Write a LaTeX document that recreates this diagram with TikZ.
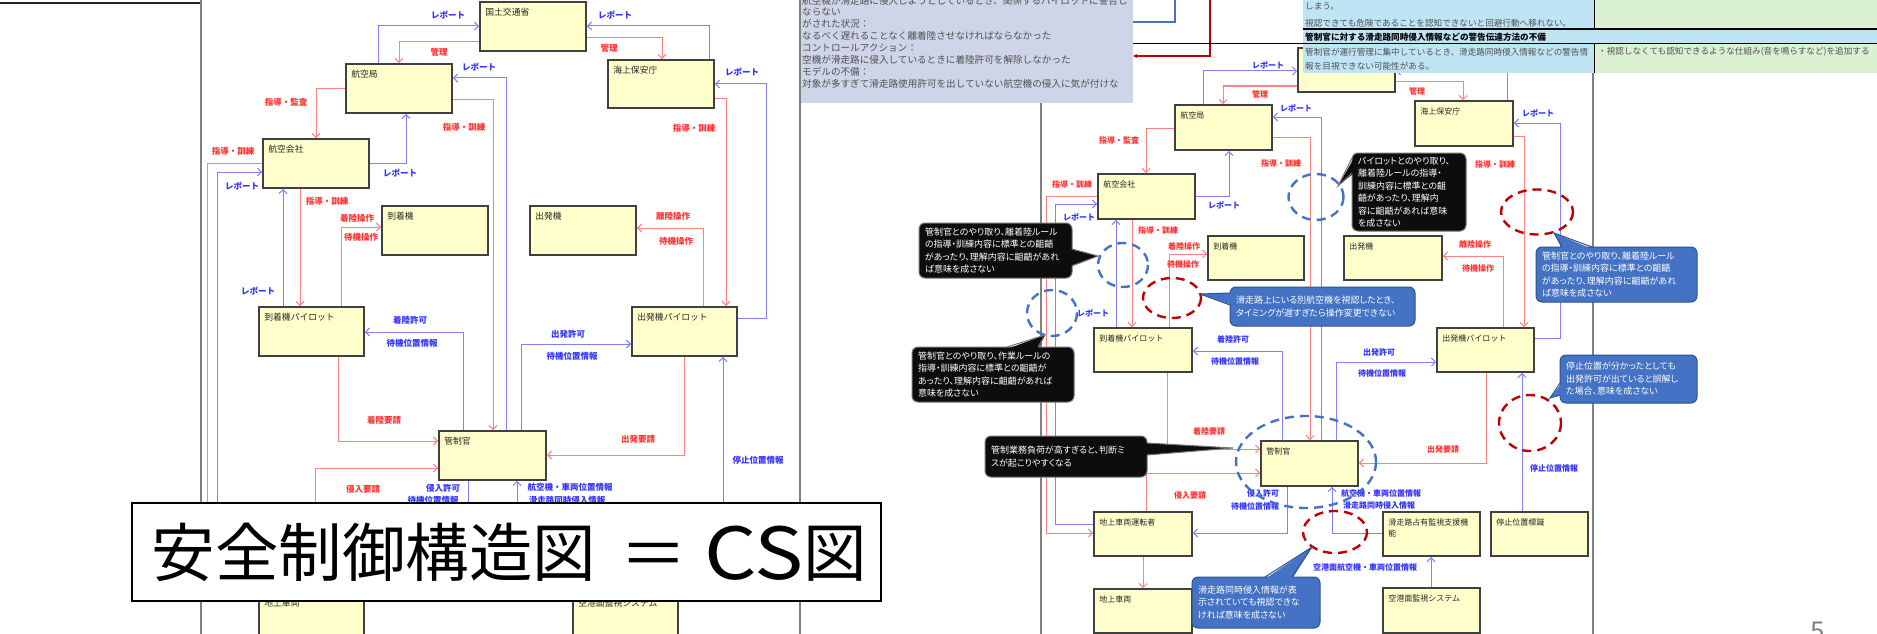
\documentclass[tikz,border=0pt]{standalone}
\usepackage{fontspec}
\usepackage{graphicx}
\setmainfont{Noto Sans CJK JP}
\newfontfamily\paltfont{Noto Sans CJK JP}[RawFeature=+palt]
\usetikzlibrary{arrows.meta}
\definecolor{boxfill}{HTML}{FFFFCC}
\definecolor{boxline}{HTML}{404040}
\definecolor{linered}{HTML}{FF8080}
\definecolor{lineblue}{HTML}{8080FF}
\definecolor{txtred}{HTML}{FF3333}
\definecolor{txtblue}{HTML}{3333FF}
\definecolor{ellblue}{HTML}{4472C4}
\definecolor{ellred}{HTML}{C00000}
\definecolor{calblue}{HTML}{4472C4}
\definecolor{calblueline}{HTML}{2F528F}
\definecolor{calblack}{HTML}{0D0D0D}
\definecolor{lavfill}{HTML}{CFD5E9}
\definecolor{tblue}{HTML}{BFE4F4}
\definecolor{tgreen}{HTML}{DAF1D2}
\definecolor{panelgray}{HTML}{808080}
\definecolor{txtgray}{HTML}{505050}
\newcommand\ybx[7]{%
  \node[ybox, minimum width={#5-#3}, minimum height={#6-#4}] (#2) at ({(#3+#5)/2},{(#4+#6)/2}) {};
  \node[ytxt#1] (#2t) at ([xshift=6pt,yshift=-7pt]#2.north west) {#7};}
\begin{document}
\begin{tikzpicture}[x=1pt,y=-1pt,
 ybox/.style={draw=boxline, line width=1.7pt, fill=boxfill, inner sep=0pt},
 ytxtL/.style={anchor=north west, inner sep=0pt, font=\fontsize{8.8}{10.5}\selectfont, text=black!85, align=left},
 ytxtR/.style={anchor=north west, inner sep=0pt, font=\fontsize{8}{11}\selectfont, text=black!85, align=left},
 redarr/.style={draw=linered, line width=1pt, -{Straight Barb[length=4pt,width=8pt]}},
 bluearr/.style={draw=lineblue, line width=1pt, -{Straight Barb[length=4pt,width=8pt]}},
 redline/.style={draw=linered, line width=1pt},
 blueline/.style={draw=lineblue, line width=1pt},
 rlL/.style={text=txtred, inner sep=0pt, font=\fontsize{8.5}{10}\selectfont\bfseries},
 blL/.style={text=txtblue, inner sep=0pt, font=\fontsize{8.5}{10}\selectfont\bfseries},
 rlR/.style={text=txtred, inner sep=0pt, font=\fontsize{8}{10}\selectfont\bfseries},
 blR/.style={text=txtblue, inner sep=0pt, font=\fontsize{8}{10}\selectfont\bfseries},
 cbase/.style={rounded corners=6pt, line width=1pt, inner xsep=6pt, inner ysep=3pt, align=left, text=white, font=\paltfont\fontsize{9}{12.5}\selectfont},
 callblk/.style={cbase, fill=calblack, draw=black!55},
 callblu/.style={cbase, fill=calblue, draw=calblueline},
 elldash/.style={line width=2.4pt, dash pattern=on 9pt off 6pt},
 panel/.style={draw=panelgray, line width=1.4pt},
 lavtxt/.style={anchor=west, inner sep=0pt, text=txtgray, font=\fontsize{9.6}{12}\selectfont},
 tbltxt/.style={anchor=west, inner sep=0pt, text=txtgray, font=\fontsize{8.6}{10}\selectfont},
]
\useasboundingbox (0,0) rectangle (1877,634);
\fill[white] (0,0) rectangle (1877,634);

% panel borders
\draw[line width=2.2pt, black!85] (0,3) -- (201,3);
\draw[panel] (201,0) -- (201,634);
\draw[panel] (800,0) -- (800,634);
\draw[panel] (1041,103) -- (1041,634);
\draw[panel] (1593,73) -- (1593,634);

% ================= LEFT DIAGRAM =================
\ybx{L}{LkK}{480}{2}{586}{51}{国土交通省}
\ybx{L}{LkL}{346}{64}{452}{113}{航空局}
\ybx{L}{LkH}{608}{60}{714}{108}{海上保安庁}
\ybx{L}{LkC}{263}{139}{369}{188}{航空会社}
\ybx{L}{LkA}{382}{206}{488}{255}{到着機}
\ybx{L}{LkD}{530}{206}{636}{255}{出発機}
\ybx{L}{LkAP}{259}{307}{364}{356}{到着機パイロット}
\ybx{L}{LkDP}{632}{307}{737}{356}{出発機パイロット}
\ybx{L}{LkT}{439}{431}{546}{480}{管制官}
\ybx{L}{LkV}{259}{593}{364}{660}{地上車両}
\ybx{L}{LkS}{573}{593}{678}{660}{空港面監視システム}

\coordinate (Le1) at (207,540);
\coordinate (Le2) at (217,540);
\coordinate (Le3) at (315,540);
\coordinate (Le4) at (468,540);
\coordinate (Le5) at (517,540);
\coordinate (Le6) at (723,540);

\draw[bluearr] (LkL.north -| 378,0) |- (LkK.west |- 0,26);
\draw[redarr] (LkK.west |- 0,42) -| (LkL.north -| 399,0);
\draw[bluearr] (LkH.north -| 709,0) |- (LkK.east |- 0,26);
\draw[redarr] (LkK.east |- 0,38) -| (LkH.north -| 662,0);
\draw[redarr] (LkL.west |- 0,88) -| (LkC.north -| 316,0);
\draw[bluearr] (LkC.east |- 0,163) -| (LkL.south -| 406,0);
\draw[bluearr] (LkT.north -| 506,0) |- (LkL.east |- 0,78);
\draw[redarr] (LkL.east |- 0,99) -| (LkT.north -| 493,0);
\draw[redarr] (LkH.east |- 0,98) -| (LkDP.north -| 726,0);
\draw[bluearr] (LkDP.east |- 0,318) -| (766,84) -- (LkH.east |- 0,84);
\draw[redarr] (LkDP.north -| 703,0) |- (LkD.east |- 0,228);
\draw[redline] (LkC.west |- 0,163) -| (Le1);
\draw[bluearr] (Le2) |- (LkC.west |- 0,172);
\draw[redarr] (LkC.south -| 300,0) -- (LkAP.north -| 300,0);
\draw[bluearr] (LkAP.north -| 283,0) -- (LkC.south -| 283,0);
\draw[redarr] (LkAP.north -| 341,0) |- (LkA.west |- 0,227);
\draw[bluearr] (LkT.north -| 463,0) |- (LkAP.east |- 0,332);
\draw[bluearr] (LkT.north -| 521,0) |- (LkDP.west |- 0,344);
\draw[redarr] (LkAP.south -| 338,0) |- (LkT.west |- 0,441);
\draw[redarr] (LkDP.south -| 684,0) |- (LkT.east |- 0,455);
\draw[redarr] (Le3) |- (LkT.west |- 0,468);
\draw[blueline] (LkT.south -| 468,0) -- (Le4);
\draw[bluearr] (Le5) -- (LkT.south -| 517,0);
\draw[bluearr] (Le6) -- (LkDP.south -| 723,0);

\node[blL] (ll1) at (448,15) {レポート};
\node[rlL] (ll2) at (439,52) {管理};
\node[blL] (ll3) at (615,15) {レポート};
\node[rlL] (ll4) at (609,48) {管理};
\node[rlL] (ll5) at (286,102) {指導・監査};
\node[blL] (ll6) at (400,173) {レポート};
\node[blL] (ll7) at (479,67) {レポート};
\node[rlL] (ll8) at (464,127) {指導・訓練};
\node[rlL] (ll9) at (694,128) {指導・訓練};
\node[blL] (ll10) at (742,72) {レポート};
\node[rlL] (ll11) at (673,216) {離陸操作};
\node[rlL] (ll12) at (676,241) {待機操作};
\node[rlL] (ll13) at (233,151) {指導・訓練};
\node[blL] (ll14) at (242,186) {レポート};
\node[rlL] (ll15) at (327,201) {指導・訓練};
\node[blL] (ll16) at (258,291) {レポート};
\node[rlL] (ll17) at (357,218) {着陸操作};
\node[rlL] (ll18) at (361,237) {待機操作};
\node[blL] (ll19) at (410,320) {着陸許可};
\node[blL] (ll20) at (412,343) {待機位置情報};
\node[blL] (ll21) at (568,334) {出発許可};
\node[blL] (ll22) at (572,356) {待機位置情報};
\node[rlL] (ll23) at (384,420) {着陸要請};
\node[rlL] (ll24) at (638,439) {出発要請};
\node[rlL] (ll25) at (363,489) {侵入要請};
\node[blL] (ll26) at (443,488) {侵入許可};
\node[blL] (ll27) at (433,500) {待機位置情報};
\node[blL] (ll28) at (570,487) {航空機・車両位置情報};
\node[blL] (ll29) at (567,500) {滑走路同時侵入情報};
\node[blL] (ll30) at (758,460) {停止位置情報};

% ================= RIGHT DIAGRAM =================
\ybx{R}{RkK}{1298}{48}{1395}{92}{}
\ybx{R}{RkL}{1175}{105}{1272}{150}{航空局}
\ybx{R}{RkH}{1415}{101}{1513}{146}{海上保安庁}
\ybx{R}{RkC}{1098}{174}{1195}{219}{航空会社}
\ybx{R}{RkA}{1208}{236}{1304}{280}{到着機}
\ybx{R}{RkD}{1344}{236}{1442}{280}{出発機}
\ybx{R}{RkAP}{1094}{328}{1192}{372}{到着機パイロット}
\ybx{R}{RkDP}{1437}{328}{1534}{372}{出発機パイロット}
\ybx{R}{RkT}{1261}{441}{1358}{486}{管制官}
\ybx{R}{RkVD}{1094}{512}{1192}{556}{地上車両運転者}
\ybx{R}{RkV}{1094}{589}{1192}{633}{地上車両}
\ybx{R}{RkR}{1383}{512}{1480}{556}{滑走路占有監視支援機\\能}
\ybx{R}{RkS}{1491}{512}{1588}{556}{停止位置標識}
\ybx{R}{RkM}{1383}{588}{1480}{633}{空港面監視システム}

\draw[bluearr] (RkL.north -| 1203,0) |- (RkK.west |- 0,71);
\draw[redarr] (RkK.west |- 0,86) -| (RkL.north -| 1223,0);
\draw[bluearr] (RkH.north -| 1507,0) |- (RkK.east |- 0,71);
\draw[redarr] (RkK.east |- 0,82) -| (RkH.north -| 1463,0);
\draw[redarr] (RkL.west |- 0,128) -| (RkC.north -| 1146,0);
\draw[bluearr] (RkC.east |- 0,196) -| (RkL.south -| 1229,0);
\draw[bluearr] (RkT.north -| 1321,0) |- (RkL.east |- 0,117);
\draw[redarr] (RkL.east |- 0,137) -| (RkT.north -| 1310,0);
\draw[redarr] (RkH.east |- 0,136) -| (RkDP.north -| 1524,0);
\draw[bluearr] (RkDP.east |- 0,338) -| (1560,123) -- (RkH.east |- 0,123);
\draw[redarr] (RkDP.north -| 1503,0) |- (RkD.east |- 0,256);
\draw[redarr] (RkC.west |- 0,196) -| (1046,533) -- (RkVD.west |- 0,533);
\draw[bluearr] (RkVD.west |- 0,524) -| (1055,204) -- (RkC.west |- 0,204);
\draw[redarr] (RkC.south -| 1132,0) -- (RkAP.north -| 1132,0);
\draw[bluearr] (RkAP.north -| 1116,0) -- (RkC.south -| 1116,0);
\draw[redarr] (RkAP.north -| 1169,0) |- (RkA.west |- 0,254);
\draw[bluearr] (RkT.north -| 1282,0) |- (RkAP.east |- 0,351);
\draw[bluearr] (RkT.north -| 1336,0) |- (RkDP.west |- 0,362);
\draw[redarr] (RkAP.south -| 1167,0) |- (RkT.west |- 0,449);
\draw[redarr] (RkDP.south -| 1486,0) |- (RkT.east |- 0,463);
\draw[redarr] (RkVD.north -| 1146,0) |- (RkT.west |- 0,473);
\draw[bluearr] (RkT.south -| 1287,0) |- (RkVD.east |- 0,533);
\draw[bluearr] (RkR.west |- 0,533) -| (RkT.south -| 1332,0);
\draw[bluearr] (RkS.north -| 1522,0) -- (RkDP.south -| 1522,0);
\draw[bluearr] (RkM.north -| 1431,0) -- (RkR.south -| 1431,0);
\draw[redarr] (RkVD.south -| 1143,0) -- (RkV.north -| 1143,0);

\node[blR] (rl1) at (1268,65) {レポート};
\node[rlR] (rl2) at (1260,94) {管理};
\node[rlR] (rl3) at (1417,91) {管理};
\node[blR] (rl4) at (1296,108) {レポート};
\node[rlR] (rl5) at (1119,140) {指導・監査};
\node[rlR] (rl6) at (1281,163) {指導・訓練};
\node[blR] (rl7) at (1538,113) {レポート};
\node[rlR] (rl8) at (1495,164) {指導・訓練};
\node[rlR] (rl9) at (1072,184) {指導・訓練};
\node[blR] (rl10) at (1079,217) {レポート};
\node[blR] (rl11) at (1224,205) {レポート};
\node[rlR] (rl12) at (1158,230) {指導・訓練};
\node[blR] (rl13) at (1093,313) {レポート};
\node[rlR] (rl14) at (1184,246) {着陸操作};
\node[rlR] (rl15) at (1183,264) {待機操作};
\node[rlR] (rl16) at (1475,244) {離陸操作};
\node[rlR] (rl17) at (1478,268) {待機操作};
\node[blR] (rl18) at (1233,339) {着陸許可};
\node[blR] (rl19) at (1235,361) {待機位置情報};
\node[blR] (rl20) at (1379,352) {出発許可};
\node[blR] (rl21) at (1382,373) {待機位置情報};
\node[rlR] (rl22) at (1209,431) {着陸要請};
\node[rlR] (rl23) at (1443,449) {出発要請};
\node[rlR] (rl24) at (1190,495) {侵入要請};
\node[blR] (rl25) at (1554,468) {停止位置情報};
\node[blR] (rl26) at (1263,493) {侵入許可};
\node[blR] (rl27) at (1255,506) {待機位置情報};
\node[blR] (rl28) at (1381,493) {航空機・車両位置情報};
\node[blR] (rl29) at (1379,505) {滑走路同時侵入情報};
\node[blR] (rl30) at (1365,567) {空港面航空機・車両位置情報};

% dashed ellipses
\draw[elldash, ellblue] (1316,197) ellipse [x radius=27.5, y radius=23];
\draw[elldash, ellred] (1537,212) ellipse [x radius=36, y radius=22.5];
\draw[elldash, ellblue] (1123,265) ellipse [x radius=25, y radius=22];
\draw[elldash, ellred] (1172,298) ellipse [x radius=29, y radius=20];
\draw[elldash, ellblue] (1052,313) ellipse [x radius=25, y radius=23];
\draw[elldash, ellred] (1530,423) ellipse [x radius=31, y radius=28];
\draw[elldash, ellblue] (1306,462) ellipse [x radius=70, y radius=46];
\draw[elldash, ellred] (1335,532) ellipse [x radius=32, y radius=21];

% callouts
\node[callblk, minimum width=114, text width=102, minimum height=78] (c1) at (1409,192) {パイロットとのやり取り、\\離着陸ルールの指導・\\訓練内容に標準との齟\\齬があったり、理解内\\容に齟齬があれば意味\\を成さない};
\fill[calblack] (1354,158) -- (1338,186) -- (1354,173) -- cycle;
\draw[black!55, line width=1pt] (1352,158) -- (1338,186) -- (1352,173);

\node[callblu, minimum width=161, text width=149, minimum height=55] (c2) at (1616.5,274.5) {管制官とのやり取り、離着陸ルール\\の指導・訓練内容に標準との齟齬\\があったり、理解内容に齟齬があれ\\ば意味を成さない};
\fill[calblue] (1562,249) -- (1554,233) -- (1592,249) -- cycle;
\draw[calblueline, line width=1pt] (1562,247) -- (1554,233) -- (1592,247);

\node[callblu, minimum width=137, text width=125, minimum height=48] (c3) at (1628.5,379) {停止位置が分かったとしても\\出発許可が出ていると誤解し\\た場合、意味を成さない};
\fill[calblue] (1562,383) -- (1550,398) -- (1562,395) -- cycle;
\draw[calblueline, line width=1pt] (1560,383) -- (1550,398) -- (1560,395);

\node[callblk, minimum width=153, text width=141, minimum height=55] (c4) at (995.5,250.5) {管制官とのやり取り、離着陸ルール\\の指導・訓練内容に標準との齟齬\\があったり、理解内容に齟齬があれ\\ば意味を成さない};
\fill[calblack] (1070,249) -- (1098,256) -- (1070,266) -- cycle;
\draw[black!55, line width=1pt] (1072,249) -- (1098,256) -- (1072,266);

\node[callblu, minimum width=185, text width=173, minimum height=39] (c5) at (1322.5,306.5) {滑走路上にいる別航空機を視認したとき、\\タイミングが遅すぎたら操作変更できない};
\fill[calblue] (1232,293) -- (1200,294) -- (1232,305) -- cycle;
\draw[calblueline, line width=1pt] (1230,293) -- (1200,294) -- (1230,305);

\node[callblk, minimum width=162, text width=150, minimum height=55] (c6) at (993,374.5) {管制官とのやり取り、作業ルールの\\指導・訓練内容に標準との齟齬が\\あったり、理解内容に齟齬があれば\\意味を成さない};
\fill[calblack] (1007,349) -- (1045,335) -- (1038,349) -- cycle;
\draw[black!55, line width=1pt] (1007,347) -- (1045,335) -- (1038,347);

\node[callblk, minimum width=162, text width=150, minimum height=41] (c7) at (1066,456.5) {管制業務負荷が高すぎると、判断ミ\\スが起こりやすくなる};
\fill[calblack] (1145,443) -- (1233,448) -- (1145,455) -- cycle;
\draw[black!55, line width=1pt] (1147,443) -- (1233,448) -- (1147,455);

\node[callblu, minimum width=128, text width=116, minimum height=51] (c8) at (1256,602.5) {滑走路同時侵入情報が表\\示されていても視認できな\\ければ意味を成さない};
\fill[calblue] (1265,579) -- (1312,547) -- (1292,579) -- cycle;
\draw[calblueline, line width=1pt] (1265,577) -- (1312,547) -- (1292,577);

% lavender text box
\node[fill=lavfill, inner sep=0pt, minimum width=332, minimum height=103] (lavb) at (967,51.5) {};
\node[lavtxt] (lv1) at (802,0.5) {航空機が滑走路に侵入しようとしているとき、関係するパイロットに警告し};
\node[lavtxt] (lv2) at (802,12) {ならない};
\node[lavtxt] (lv3) at (802,24) {がされた状況：};
\node[lavtxt] (lv4) at (802,36) {なるべく遅れることなく離着陸させなければならなかった};
\node[lavtxt] (lv5) at (802,48) {コントロールアクション：};
\node[lavtxt] (lv6) at (802,60) {空機が滑走路に侵入しているときに着陸許可を解除しなかった};
\node[lavtxt] (lv7) at (802,72) {モデルの不備：};
\node[lavtxt] (lv8) at (802,84) {対象が多すぎて滑走路使用許可を出していない航空機の侵入に気が付けな};
\coordinate (topb) at (1175,0);
\coordinate (topr) at (1210,0);
\draw[ellblue, line width=1.4pt] (lavb.east |- 0,22) -| (topb);
\draw[ellred, line width=1.4pt, -{Stealth[length=4pt,width=4pt]}] (topr) |- (lavb.east |- 0,56);

% table
\fill[tblue] (1303,0) rectangle (1594,29);
\fill[tgreen] (1594,0) rectangle (1877,29);
\fill[tblue] (1303,29) rectangle (1877,44);
\fill[tblue] (1303,44) rectangle (1594,73);
\fill[tgreen] (1594,44) rectangle (1877,73);
\draw[black, line width=1.2pt] (1303,29) -- (1877,29);
\draw[black, line width=1.2pt] (1133,43.5) -- (1877,43.5);
\draw[black, line width=1pt] (1594,0) -- (1594,29);
\draw[black, line width=1pt] (1594,44) -- (1594,73);
\node[tbltxt] (tb1) at (1305,6) {しまう。};
\node[tbltxt] (tb2) at (1305,23) {視認できても危険であることを認知できないと回避行動へ移れない。};
\node[tbltxt, text=black, font=\fontsize{8.6}{10}\selectfont\bfseries] (tb3) at (1305,37) {管制官に対する滑走路同時侵入情報などの警告伝達方法の不備};
\node[tbltxt] (tb4) at (1305,52) {管制官が運行管理に集中しているとき、滑走路同時侵入情報などの警告情};
\node[tbltxt] (tb5) at (1305,66) {報を目視できない可能性がある。};
\node[tbltxt] (tb6) at (1598,52) {・視認しなくても認知できるような仕組み(音を鳴らすなど)を追加する};

% big title
\node[draw=black, line width=2pt, fill=white, minimum width=749, minimum height=98, inner sep=0pt] (ttlbox) at (506.5,552) {};
\node[anchor=west, inner sep=0pt, font=\fontsize{63.5}{70}\selectfont] (ttl) at (151.5,552) {安全制御構造図\hspace{29.5pt}\scalebox{1.6}[1]{=}\hspace{22pt}\raisebox{-3pt}{\scalebox{1.3}[1.13]{CS}}図};

% page number
\node[anchor=north, inner sep=0pt, text=black!50, font=\fontsize{26}{30}\selectfont] (pg) at (1818,622) {5};
\end{tikzpicture}
\end{document}
